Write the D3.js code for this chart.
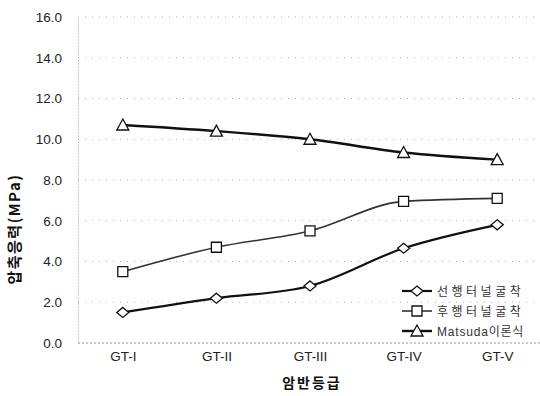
<!DOCTYPE html>
<html><head><meta charset="utf-8">
<script src="https://cdn.jsdelivr.net/npm/d3@7"></script>
<style>body{margin:0;background:#fff}svg{display:block}</style>
</head><body>
<svg id="c" width="540" height="396"></svg>
<script>
const categoryLabels = ["GT-I","GT-II","GT-III","GT-IV","GT-V"];
const leadTunnel = [1.5, 2.2, 2.8, 4.65, 5.8];
const trailTunnel = [3.5, 4.7, 5.5, 6.95, 7.1];
const matsuda = [10.7, 10.4, 10.0, 9.35, 9.0];
const yTicks = [0,2,4,6,8,10,12,14,16];
const seriesNames = ["선행터널굴착","후행터널굴착","Matsuda이론식"];
const yTitle = "압축응력(MPa)";
const xTitle = "암반등급";

const svg = d3.select("#c");
const font = "Arial, 'Liberation Sans', 'Noto Sans CJK KR', sans-serif";
const x = d3.scalePoint().domain(categoryLabels).range([76, 544]).padding(0.5);
const y = d3.scaleLinear().domain([0,16]).range([343, 17]);

// grid
svg.append("g").selectAll("line").data(yTicks.slice(1)).join("line")
  .attr("x1",78).attr("x2",540).attr("y1",d=>y(d)).attr("y2",d=>y(d))
  .attr("stroke","#aaa").attr("stroke-width",1).attr("stroke-dasharray","1,6");

// y axis
const ya = svg.append("g").attr("transform","translate(78,0)")
  .call(d3.axisLeft(y).tickValues(yTicks).tickFormat(d3.format(".1f")).tickSize(0).tickPadding(16));
ya.select(".domain").attr("stroke","#999").attr("stroke-dasharray","1,2");
ya.selectAll("text").attr("font-family",font).attr("font-size",13.5).attr("fill","#222");

// x axis
const xa = svg.append("g").attr("transform","translate(0,343)")
  .call(d3.axisBottom(x).tickSize(0).tickPadding(8));
xa.select(".domain").attr("stroke","#999").attr("stroke-dasharray","2,2").attr("d","M78,0H540");
xa.selectAll("text").attr("font-family",font).attr("font-size",13.5).attr("fill","#222");

svg.append("text").attr("x",312).attr("y",388).attr("text-anchor","middle")
  .attr("font-family","'Noto Sans CJK KR', sans-serif").attr("font-weight","bold")
  .attr("font-size",14).attr("letter-spacing",2).attr("fill","#111").text(xTitle);
svg.append("text").attr("transform","translate(20,229) rotate(-90)").attr("text-anchor","middle")
  .attr("font-family","'Noto Sans CJK KR', sans-serif").attr("font-weight","bold")
  .attr("font-size",15).attr("letter-spacing",1.5).attr("fill","#111").text(yTitle);

const series = [
  {name:seriesNames[0], vals:leadTunnel, shape:"diamond", color:"#111", w:2.2},
  {name:seriesNames[1], vals:trailTunnel, shape:"square", color:"#333", w:1.6},
  {name:seriesNames[2], vals:matsuda, shape:"triangle", color:"#111", w:2.4}
];
const line = d3.line().curve(d3.curveMonotoneX);
function marker(g, shape, cx, cy){
  let p;
  if(shape==="diamond") p = `M${cx},${cy-5}L${cx+6},${cy}L${cx},${cy+5}L${cx-6},${cy}Z`;
  else if(shape==="square") p = `M${cx-5},${cy-5}h10v10h-10Z`;
  else p = `M${cx},${cy-6}L${cx+6},${cy+5}L${cx-6},${cy+5}Z`;
  g.append("path").attr("d",p).attr("fill","#fff").attr("stroke","#111").attr("stroke-width",1.3);
}
series.forEach(s=>{
  const pts = s.vals.map((v,i)=>[x(categoryLabels[i]), y(v)]);
  svg.append("path").attr("d",line(pts)).attr("fill","none").attr("stroke",s.color).attr("stroke-width",s.w);
  const g = svg.append("g");
  pts.forEach(p=>marker(g, s.shape, p[0], p[1]));
});

// legend
const ly = [291, 311, 331];
const lsp = [3.5, 3.5, 0.8];
series.forEach((s,i)=>{
  svg.append("line").attr("x1",402).attr("x2",432).attr("y1",ly[i]).attr("y2",ly[i])
    .attr("stroke",s.color).attr("stroke-width",s.w);
  marker(svg, s.shape, 417, ly[i]);
  svg.append("text").attr("x",437).attr("y",ly[i]+4.5).attr("letter-spacing",lsp[i])
    .attr("font-family",font).attr("font-size",12).attr("fill","#333").text(s.name);
});
</script>
</body></html>
